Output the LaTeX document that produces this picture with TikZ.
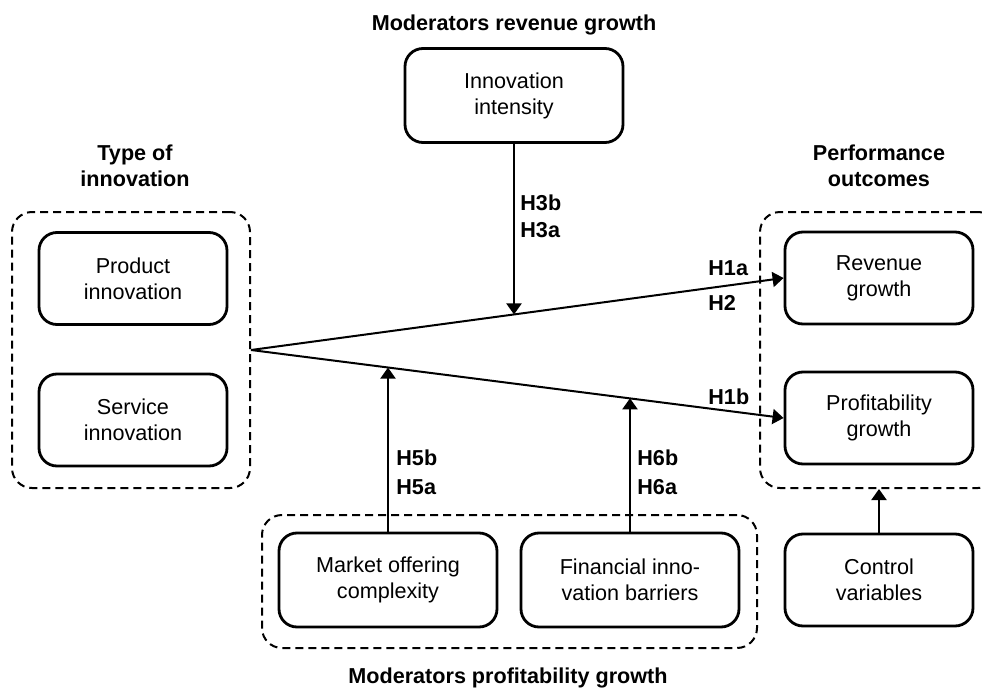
\documentclass[tikz,border=0pt]{standalone}
\usepackage{fontspec}
\setmainfont{Liberation Sans}
\usetikzlibrary{arrows.meta}

\newcommand{\diafont}{\fontsize{10.8}{13}\selectfont}

\tikzset{
  var/.style={draw, line width=1.4pt, rounded corners=9pt, minimum width=94pt, minimum height=46pt, align=center, inner sep=2pt, font=\diafont},
  modvar/.style={var, minimum width=109pt, minimum height=47pt},
  group/.style={draw, dash pattern=on 4pt off 2.5pt, line width=1pt, rounded corners=10pt},
  heading/.style={font=\diafont\bfseries, align=center},
  hyp/.style={font=\diafont\bfseries, anchor=west, inner sep=0pt},
  link/.style={line width=1pt, -{Triangle[width=7.5pt,length=5.5pt]}},
}

\begin{document}
\begin{tikzpicture}[x=0.5pt, y=-0.5pt]
    \useasboundingbox (0,0) rectangle (982,691);

    % dashed groups
    \node[group, minimum width=119pt, minimum height=138pt] (gtype) at (131,350) {};
    \node[group, minimum width=119pt, minimum height=138pt] (gperf) at (879,350) {};
    \node[group, minimum width=247.5pt, minimum height=66.5pt] (gmod) at (509.5,581.5) {};

    % headings
    \node[heading] (tRev)  at (514,25)  {Moderators revenue growth};
    \node[heading] (tType) at (135,166) {Type of\\innovation};
    \node[heading] (tPerf) at (879,166) {Performance\\outcomes};
    \node[heading] (tProf) at (508,678) {Moderators profitability growth};

    % variables
    \node[modvar] (inten) at (514,95.5) {Innovation\\intensity};
    \node[var] (prod) at (133,278.5) {Product\\innovation};
    \node[var] (serv) at (133,420)   {Service\\innovation};
    \node[var] (rev)  at (879,278)   {Revenue\\growth};
    \node[var] (prof) at (879,418)   {Profitability\\growth};
    \node[modvar] (mkt) at (388,580) {Market offering\\complexity};
    \node[modvar] (fin) at (630,580) {Financial inno-\\vation barriers};
    \node[var] (ctrl) at (879,580)   {Control\\variables};

    % main effects
    \coordinate (j) at (gtype.east);
    \draw[link] (j) -- coordinate[pos=0.4935] (onRev) (rev.west);
    \draw[link] (j) -- coordinate[pos=0.258] (onProfA) coordinate[pos=0.710] (onProfB) (prof.west);

    % moderating effects
    \draw[link] (inten.south) -- (inten.south |- onRev);
    \draw[link] (mkt.north) -- (mkt.north |- onProfA);
    \draw[link] (fin.north) -- (fin.north |- onProfB);
    \draw[link] (ctrl.north) -- (gperf.south);

    % hypotheses
    \node[hyp] (h3b) at (520,203) {H3b};
    \node[hyp] (h3a) at (520,230) {H3a};
    \node[hyp] (h1a) at (708,268) {H1a};
    \node[hyp] (h2)  at (708,303) {H2};
    \node[hyp] (h1b) at (708,397) {H1b};
    \node[hyp] (h5b) at (396,458) {H5b};
    \node[hyp] (h5a) at (396,487) {H5a};
    \node[hyp] (h6b) at (637,458) {H6b};
    \node[hyp] (h6a) at (637,487) {H6a};
\end{tikzpicture}
\end{document}
